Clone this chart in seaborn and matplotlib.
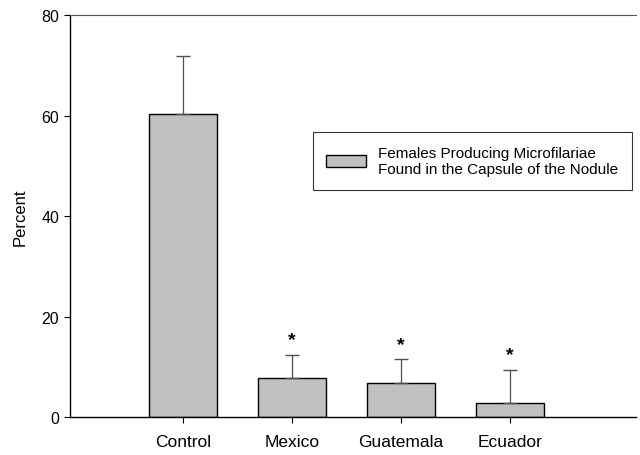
import matplotlib
matplotlib.use("Agg")
import matplotlib.pyplot as plt
import seaborn as sns
import pandas as pd
import numpy as np

categories = ["Control", "Mexico", "Guatemala", "Ecuador"]
values = [60.3, 7.8, 6.8, 2.8]
errors = [11.6, 4.6, 4.7, 6.6]
significant = [False, True, True, True]
yticks = [0, 20, 40, 60, 80]
legend_label = "Females Producing Microfilariae\nFound in the Capsule of the Nodule"

sns.set_style("ticks")
plt.rcParams['font.family'] = ['Liberation Sans', 'DejaVu Sans']
plt.rcParams['text.color'] = 'black'
plt.rcParams['axes.labelcolor'] = 'black'
plt.rcParams['xtick.color'] = 'black'
plt.rcParams['ytick.color'] = 'black'

df = pd.DataFrame({"Group": categories, "Percent": values})

fig = plt.figure(figsize=(6.4, 4.56), dpi=100)
ax = fig.add_axes([0.109, 0.083, 0.885, 0.882])

sns.barplot(data=df, x="Group", y="Percent", color="#c0c0c0", edgecolor="black",
            linewidth=1.0, width=0.62, saturation=1, ax=ax)

xpos = np.arange(len(categories))
ax.errorbar(xpos, values, yerr=[np.zeros(len(values)), errors], fmt="none",
            ecolor="#505050", elinewidth=0.9, capsize=5, capthick=1.0)
for x, v, e, s in zip(xpos, values, errors, significant):
    if s:
        ax.text(x, v + e + 1.3, "*", ha="center", va="bottom", fontsize=14,
                fontweight="bold")

ax.set_xlim(-1.04, 4.16)
ax.set_ylim(0, 80)
ax.set_yticks(yticks)
ax.set_xlabel("")
ax.set_ylabel("Percent", fontsize=12, labelpad=10)
ax.tick_params(axis="y", labelsize=11.5, length=4, width=0.8, direction="out")
ax.tick_params(axis="x", labelsize=12.5, length=4, width=0.8, direction="out", pad=8)
for sp in ["left", "bottom", "top"]:
    ax.spines[sp].set_linewidth(1.0)
    ax.spines[sp].set_color("black")
ax.spines["top"].set_linewidth(0.8)
ax.spines["top"].set_color("#555555")
ax.spines["right"].set_visible(False)

leg = ax.legend([ax.patches[0]], [legend_label], loc="upper left",
                bbox_to_anchor=(0.429, 0.709), borderaxespad=0, fontsize=11,
                frameon=True, fancybox=False, edgecolor="black", handlelength=2.6,
                handleheight=0.9, borderpad=0.9, handletextpad=0.8, labelspacing=0.3)
leg.get_frame().set_linewidth(0.8)

fig.savefig("out.png", dpi=100)
